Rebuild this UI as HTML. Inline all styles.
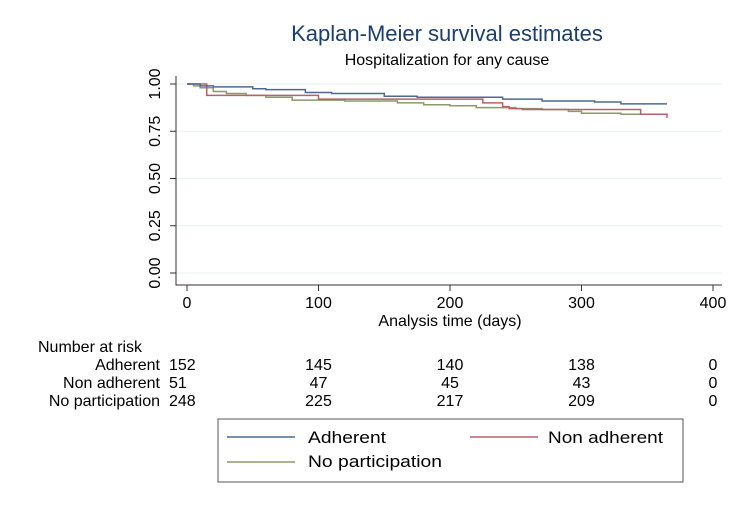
<!DOCTYPE html>
<html><head><meta charset="utf-8"><style>
body{margin:0;background:#fff;width:750px;height:500px;overflow:hidden;font-family:"Liberation Sans",sans-serif}
text{font-family:"Liberation Sans",sans-serif}
</style></head><body>
<svg id="chart" width="750" height="500" xmlns="http://www.w3.org/2000/svg">
<text x="447" y="41" text-anchor="middle" font-size="22" fill="#1a3f6e">Kaplan-Meier survival estimates</text>
<text x="447" y="65" text-anchor="middle" font-size="16" fill="#000">Hospitalization for any cause</text>
<g id="grid"></g><g id="axes"></g><g id="series"></g><g id="risk"></g>
<g>
<rect x="218" y="419" width="465" height="63" fill="#fff" stroke="#555" stroke-width="1"/>
<line x1="227" y1="437" x2="295" y2="437" stroke="#4a6a93" stroke-width="1.5"/>
<text x="308" y="443" font-size="17" textLength="78" lengthAdjust="spacingAndGlyphs">Adherent</text>
<line x1="470" y1="437" x2="538" y2="437" stroke="#b8616a" stroke-width="1.5"/>
<text x="548" y="443" font-size="17" textLength="115" lengthAdjust="spacingAndGlyphs">Non adherent</text>
<line x1="227" y1="462" x2="295" y2="462" stroke="#8a9a6a" stroke-width="1.5"/>
<text x="308" y="467" font-size="17" textLength="134" lengthAdjust="spacingAndGlyphs">No participation</text>
</g>
</svg>
<script>
const xTicks=[0,100,200,300,400];
const yTicks=[0,0.25,0.5,0.75,1];
const yTickLabels=["0.00","0.25","0.50","0.75","1.00"];
const adherentT=[0,10,20,50,60,90,110,150,175,240,270,310,330,365];
const adherentS=[1,0.99,0.985,0.975,0.97,0.955,0.95,0.935,0.93,0.92,0.91,0.905,0.895,0.895];
const nonAdhT=[0,15,100,150,180,225,240,245,255,345,365];
const nonAdhS=[1,0.94,0.92,0.92,0.92,0.90,0.88,0.87,0.865,0.84,0.82];
const noPartT=[0,5,10,20,30,45,60,80,120,160,180,200,220,250,270,290,300,330,365];
const noPartS=[1,0.99,0.98,0.96,0.95,0.94,0.93,0.915,0.91,0.90,0.89,0.885,0.875,0.87,0.865,0.855,0.845,0.84,0.835];
const riskGroups=["Adherent","Non adherent","No participation"];
const riskTimes=[0,100,200,300,400];
const riskAdherent=[152,145,140,138,0];
const riskNonAdh=[51,47,45,43,0];
const riskNoPart=[248,225,217,209,0];
const NS="http://www.w3.org/2000/svg";
const X=t=>187+t*(713-187)/400;
const Y=s=>273-s*(273-84);
function mk(tag,attrs,parent,txt){const e=document.createElementNS(NS,tag);for(const k in attrs)e.setAttribute(k,attrs[k]);if(txt!==undefined)e.textContent=txt;document.getElementById(parent).appendChild(e);return e;}
yTicks.forEach((v,i)=>{
 const g=mk('line',{x1:176,x2:722,y1:Y(v),y2:Y(v),stroke:'#eaf2f3','stroke-width':1},'grid');
 
 
 const t=mk('line',{x1:170,x2:176,y1:Y(v),y2:Y(v),stroke:'#333'},'axes');
 
 
 const l=mk('text',{x:0,y:0,'font-size':16,'text-anchor':'middle',transform:`translate(160,${Y(v)}) rotate(-90)`},'axes',yTickLabels[i]);
 
 
});
xTicks.forEach(v=>{
 const t=mk('line',{x1:X(v),x2:X(v),y1:285,y2:291,stroke:'#333'},'axes');
 
 
 const l=mk('text',{x:X(v),y:308,'font-size':16,'text-anchor':'middle'},'axes',String(v));
 
 
});
const ax=mk('path',{d:'M176,76 V285 H722',fill:'none',stroke:'#333','stroke-width':1},'axes');


const xt=mk('text',{x:450,y:326,'font-size':16,'text-anchor':'middle'},'axes','Analysis time (days)');


function step(T,S,color,name){
 let d=`M${X(T[0])},${Y(S[0])}`;
 for(let i=1;i<T.length;i++){d+=` H${X(T[i])} V${Y(S[i])}`;}
 const p=mk('path',{d:d,fill:'none',stroke:color,'stroke-width':1.5},'series');
 
 
}
step(noPartT,noPartS,'#8a9a6a','curve-no-participation');
step(nonAdhT,nonAdhS,'#b8616a','curve-non-adherent');
step(adherentT,adherentS,'#4a6a93','curve-adherent');
const h=mk('text',{x:38,y:352,'font-size':16},'risk','Number at risk');


[riskAdherent,riskNonAdh,riskNoPart].forEach((row,r)=>{
 const y=370+r*18;
 const lab=mk('text',{x:160,y:y,'font-size':16,'text-anchor':'end'},'risk',riskGroups[r]);
 
 
 row.forEach((n,i)=>{
  const x=i===0?169:X(riskTimes[i]);
  const t=mk('text',{x:x,y:y,'font-size':16,'text-anchor':i===0?'start':'middle'},'risk',String(n));
  
  
 });
});
</script>
</body></html>
